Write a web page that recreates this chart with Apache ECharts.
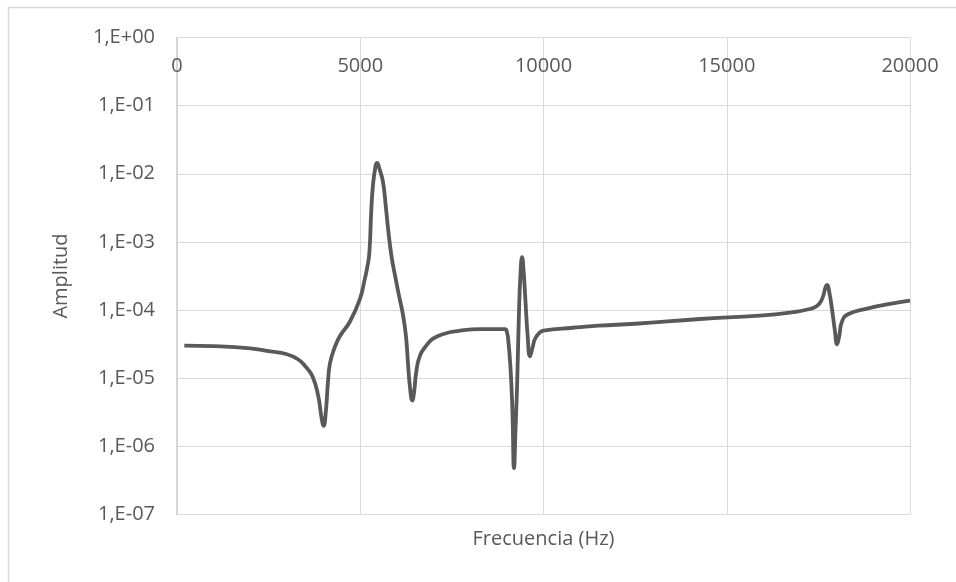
<!DOCTYPE html>
<html>
<head>
<meta charset="utf-8">
<script src="https://cdn.jsdelivr.net/npm/echarts@6/dist/echarts.min.js"></script>
<style>
  html, body { margin: 0; padding: 0; background: #ffffff; }
  #chart { width: 956px; height: 582px; }
</style>
</head>
<body>
<div id="chart"></div>
<script>
// Frequency response: amplitude vs. frequency (Hz)
const frecuencia = [
  200, 1000, 2000, 2500, 3000, 3300, 3500, 3700, 3850, 3950,
  4000, 4060, 4120, 4175, 4300, 4450, 4720, 4990, 5120, 5200,
  5250, 5300, 5350, 5420, 5460, 5520, 5620, 5700, 5760, 5850,
  5950, 6060, 6170, 6250, 6300, 6360, 6420, 6470, 6530, 6630,
  6800, 6985, 7300, 7640, 8270, 8950, 9000, 9040, 9100, 9150,
  9195, 9240, 9280, 9330, 9370, 9415, 9460, 9500, 9570, 9630,
  9700, 9770, 9900, 10000, 10800, 11500, 12500, 14270, 15900, 16800,
  17200, 17460, 17600, 17700, 17740, 17800, 17870, 17950, 18010, 18070,
  18145, 18310, 18830, 19450, 20000
];
const amplitud = [
  3.0e-5, 2.95e-5, 2.75e-5, 2.5e-5, 2.25e-5, 1.9e-5, 1.5e-5, 1.05e-5, 5.6e-6, 2.5e-6,
  2.0e-6, 3.2e-6, 8.9e-6, 1.66e-5, 2.8e-5, 4.2e-5, 6.8e-5, 1.45e-4, 2.8e-4, 4.5e-4,
  7.1e-4, 2.8e-3, 7.1e-3, 1.32e-2, 1.45e-2, 1.2e-2, 7.6e-3, 3.2e-3, 1.55e-3, 6.3e-4,
  3.2e-4, 1.6e-4, 8.3e-5, 4.0e-5, 1.74e-5, 7.1e-6, 4.7e-6, 6.3e-6, 1.26e-5, 2.15e-5,
  3.0e-5, 3.8e-5, 4.5e-5, 4.9e-5, 5.25e-5, 5.25e-5, 4.8e-5, 3.55e-5, 1.4e-5, 3.55e-6,
  4.8e-7, 2.0e-6, 7.9e-6, 8.9e-5, 3.2e-4, 6.0e-4, 3.55e-4, 1.6e-4, 4.0e-5, 2.1e-5,
  2.8e-5, 3.8e-5, 4.7e-5, 5.0e-5, 5.5e-5, 5.9e-5, 6.3e-5, 7.4e-5, 8.3e-5, 9.3e-5,
  1.02e-4, 1.15e-4, 1.45e-4, 2.2e-4, 2.35e-4, 1.8e-4, 1.05e-4, 5.0e-5, 3.15e-5, 4.2e-5,
  6.8e-5, 8.7e-5, 1.05e-4, 1.23e-4, 1.38e-4
];
const yTickLabels = ['1,E-07', '1,E-06', '1,E-05', '1,E-04', '1,E-03', '1,E-02', '1,E-01', '1,E+00'];
const xTickLabels = ['0', '5000', '10000', '15000', '20000'];
const xTitle = 'Frecuencia (Hz)';
const yTitle = 'Amplitud';

const FONT = '"Open Sans", "Noto Sans", sans-serif';
const TEXT_COLOR = '#595959';
const GRID_COLOR = '#d9d9d9';

const points = frecuencia.map((f, i) => [f, amplitud[i]]);

const chart = echarts.init(document.getElementById('chart'), null, { renderer: 'canvas' });
const gridLeft = 177, gridRight = 46, gridTop = 37.5, gridBottom = 67.5;

chart.setOption({
  animation: false,
  backgroundColor: '#ffffff',
  textStyle: { fontFamily: FONT },
  grid: { left: gridLeft, right: gridRight, top: gridTop, bottom: gridBottom, containLabel: false },
  xAxis: {
    type: 'value',
    position: 'top',
    min: 0,
    max: 20000,
    interval: 5000,
    axisLine: { show: true, lineStyle: { color: GRID_COLOR, width: 1 } },
    axisTick: { show: false },
    axisLabel: {
      inside: true,
      margin: 19,
      color: TEXT_COLOR,
      fontFamily: FONT,
      fontSize: 20,
      formatter: function (v) {
        const i = Math.round(v / 5000);
        return xTickLabels[i] !== undefined ? xTickLabels[i] : '';
      }
    },
    splitLine: { show: true, lineStyle: { color: GRID_COLOR, width: 1 } }
  },
  yAxis: {
    type: 'log',
    logBase: 10,
    min: 1e-7,
    max: 1,
    name: yTitle,
    nameLocation: 'middle',
    nameRotate: 90,
    nameGap: 106,
    nameTextStyle: { color: TEXT_COLOR, fontFamily: FONT, fontSize: 20 },
    axisLine: { show: true, lineStyle: { color: '#cccccc', width: 1.5 } },
    axisTick: { show: false },
    axisLabel: {
      margin: 22,
      color: TEXT_COLOR,
      fontFamily: FONT,
      fontSize: 20,
      formatter: function (v) {
        const e = Math.round(Math.log10(v));
        return yTickLabels[e + 7] !== undefined ? yTickLabels[e + 7] : '';
      }
    },
    splitLine: { show: true, lineStyle: { color: GRID_COLOR, width: 1 } }
  },
  series: [{
    type: 'line',
    data: points,
    showSymbol: false,
    smooth: 0.5,
    lineStyle: { color: '#595959', width: 3.8 },
    itemStyle: { color: '#595959' }
  }],
  graphic: [
    {
      type: 'rect',
      shape: { x: 8.5, y: 7.5, width: 1000, height: 700 },
      style: { fill: 'none', stroke: GRID_COLOR, lineWidth: 1.5 },
      silent: true,
      z: -1
    },
    {
      type: 'text',
      x: (gridLeft + 956 - gridRight) / 2,
      y: 539,
      style: {
        text: xTitle,
        fill: TEXT_COLOR,
        font: '20px ' + FONT,
        textAlign: 'center',
        textVerticalAlign: 'middle'
      }
    }
  ]
});
</script>
</body>
</html>
